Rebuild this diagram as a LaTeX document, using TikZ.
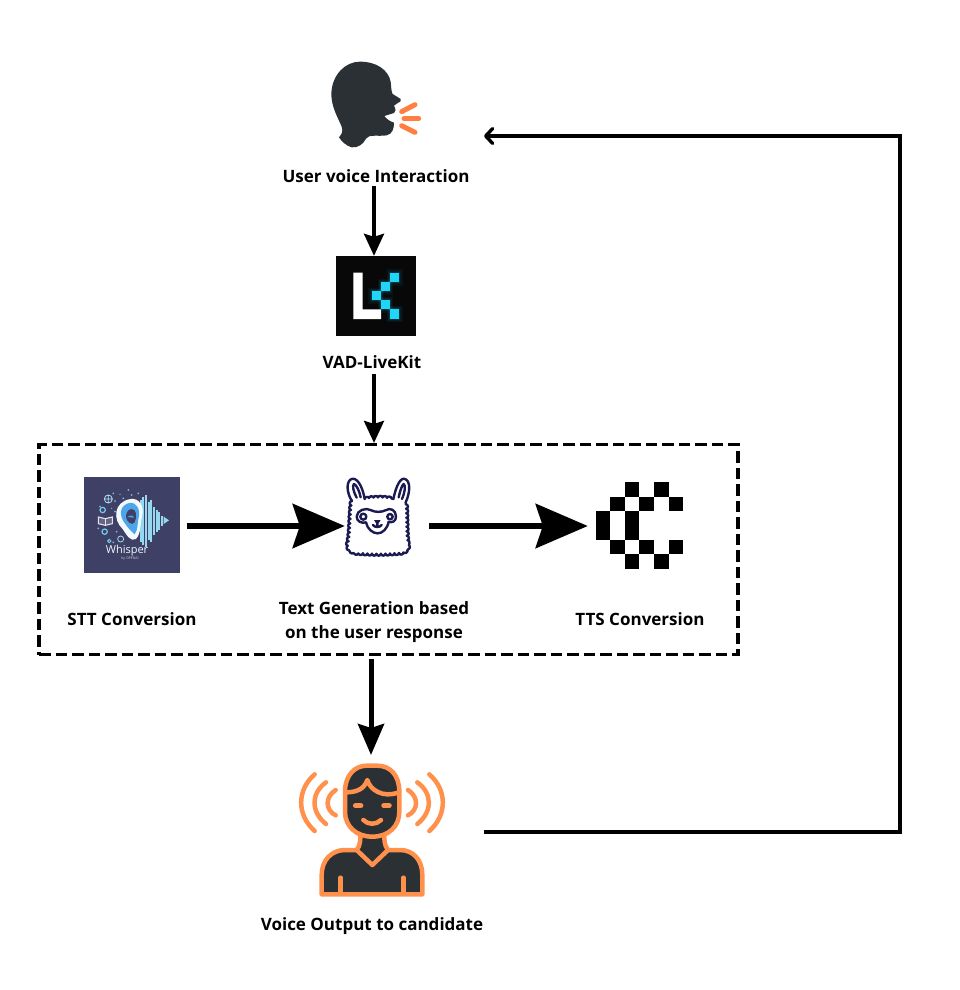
\documentclass[tikz,border=0pt]{standalone}
\usepackage{fontspec}
\setmainfont{Open Sans}
\usetikzlibrary{arrows.meta,decorations.pathmorphing,decorations.pathreplacing,calc}
\definecolor{ink}{HTML}{2B3035}
\definecolor{orng}{HTML}{FF914D}
\definecolor{spk}{HTML}{FF7F41}
\definecolor{lkblue}{HTML}{1FD5F9}
\definecolor{wbg}{HTML}{3E4066}
\definecolor{wblue}{HTML}{5CC3E6}
\definecolor{navy}{HTML}{1B1B52}
\tikzset{
  x=1pt,y=-1pt,
  label text/.style={font=\bfseries\fontsize{17}{24}\selectfont,align=center,text=black,inner sep=0pt},
  thin arrow/.style={draw=black,line width=3.4pt,-{Stealth[length=22pt,width=20pt,inset=3pt]}},
  mid arrow/.style={draw=black,line width=5pt,-{Stealth[length=31pt,width=26pt,inset=4pt]}},
  fat arrow/.style={draw=black,line width=6.5pt,-{Stealth[length=52pt,width=44pt,inset=7pt]}},
  barb arrow/.style={draw=black,line width=3.4pt,-{Straight Barb[length=7pt,width=15pt,round]}},
  group box/.style={draw=black,line width=3.2pt,dash pattern=on 11.5pt off 5pt},
  icon box/.style={inner sep=0pt,minimum width=#1,minimum height=#1},
  zoomed/.style={x=0.33333pt,y=-0.33333pt},
  person/.style={fill=ink,draw=orng,line width=4.5pt,line join=round},
  wave/.style={draw=orng,line width=4.5pt,line cap=round},
  sq/.style={fill=black,draw=none},
  lama/.style={draw=navy,line width=2.4pt,line cap=round,line join=round},
}
\begin{document}
\begin{tikzpicture}
\useasboundingbox (0,0) rectangle (959,990);
\fill[white] (0,0) rectangle (959,990);

% ---------- anchors ----------
\node[icon box=1pt] (userlab) at (376,176) {};
\node[icon box=80pt] (vad) at (376,296) {};
\node[icon box=1pt] (vadlab) at (372,362) {};
\node[inner sep=0pt,minimum width=699pt,minimum height=210pt,group box] (grp) at (388.5,549.5) {};
\node[icon box=96pt] (whisper) at (132,525) {};
\node[inner sep=0pt,minimum width=84pt,minimum height=84pt] (llama) at (387,526) {};
\node[inner sep=0pt,minimum width=88pt,minimum height=88pt] (tts) at (632,526) {};
\coordinate (voicetop) at (371,755);
\coordinate (speakerin) at (484,136);
\coordinate (voiceout) at (484,832);
\coordinate (cornerA) at (900,832);
\coordinate (cornerB) at (900,136);

% ---------- speaking head ----------
\begin{scope}[shift={(270,60)},zoomed]
\fill[ink] (270,5) .. controls (320,5) and (355,30) .. (362,65)
  .. controls (364,85) and (364,95) .. (368,102)
  -- (392,117) .. controls (396,122) and (390,126) .. (382,130)
  -- (372,137) .. controls (378,148) and (378,155) .. (372,159)
  -- (343,168) .. controls (350,178) and (360,184) .. (372,188)
  .. controls (372,205) and (368,222) .. (350,226)
  .. controls (325,230) and (295,222) .. (288,236)
  .. controls (280,252) and (265,264) .. (245,262)
  .. controls (230,258) and (215,245) .. (207,232)
  .. controls (215,222) and (220,215) .. (215,200)
  .. controls (205,175) and (183,140) .. (184,100)
  .. controls (186,45) and (225,5) .. (270,5) -- cycle;
\draw[spk,line width=5pt,line cap=round] (395,155) -- (435,134);
\draw[spk,line width=5pt,line cap=round] (402,176) -- (446,176);
\draw[spk,line width=5pt,line cap=round] (395,197) -- (435,217);
\end{scope}
\node[label text] at (userlab) {User voice Interaction};

% ---------- LiveKit ----------
\fill[black!97] (vad.north west) rectangle (vad.south east);
\begin{scope}[shift={(320,240)},zoomed]
\foreach \g/\o in {10/.05,6/.07,3/.1}{
  \fill[lkblue,opacity=\o] (210-\g,98-\g) rectangle (238+\g,127+\g);
  \fill[lkblue,opacity=\o] (183-\g,127-\g) rectangle (210+\g,154+\g);
  \fill[lkblue,opacity=\o] (155-\g,154-\g) rectangle (183+\g,181+\g);
  \fill[lkblue,opacity=\o] (183-\g,181-\g) rectangle (210+\g,208+\g);
  \fill[lkblue,opacity=\o] (210-\g,208-\g) rectangle (238+\g,236+\g);
}
\fill[white] (100,98) -- (128,98) -- (128,208) -- (183,208) -- (183,237) -- (100,237) -- cycle;
\fill[lkblue] (210,98) rectangle (238,127);
\fill[lkblue] (183,127) rectangle (210,154);
\fill[lkblue] (155,154) rectangle (183,181);
\fill[lkblue] (183,181) rectangle (210,208);
\fill[lkblue] (210,208) rectangle (238,236);
\end{scope}
\node[label text] at (vadlab) {VAD-LiveKit};

% ---------- Whisper ----------
\fill[wbg] (whisper.north west) rectangle (whisper.south east);
\begin{scope}[shift={(70,465)},zoomed]
% halo of small icons
\foreach \a/\b/\c in {160/100/3,185/90/3,135/108/3,90/125/3,85/190/3,140/200/3,130/232/3,175/75/3,130/85/3,150/88/2,205/85/3,135/140/3,125/130/2}
  \fill[wblue!70!white,opacity=.8] (\a,\b) circle (\c);
\draw[wblue!50!white,line width=.8pt] (115,102) circle (12) (103,102) -- (127,102) (115,90) -- (115,114);
\draw[wblue!85!white,line width=1.2pt] (98,135) circle (8);
\draw[wblue!85!white,line width=1.2pt] (104,200) circle (8);
\draw[wblue!60!white,line width=.8pt] (152,222) circle (9);
\draw[wblue!85!white,line width=1pt] (118,228) circle (5);
\draw[white!85!wbg,line width=1.1pt,fill=white!20!wbg] (85,156) -- (85,176) -- (106,181) -- (127,176) -- (127,156) -- (106,161) -- cycle;
\draw[white!85!wbg,line width=1.1pt] (106,161) -- (106,181);
% waveform
\foreach \a/\h in {212/62,220/72,228/78,236/58,244/62,252/42,260/34,268/26,276/14}
  \draw[wblue!65!white,line width=1.9pt] (\a,168-\h) -- (\a,168+\h);
\fill[wblue!65!white] (281,155) -- (297,166) -- (281,177) -- cycle;
% ear
\fill[white!92!wblue] (182,102) .. controls (208,98) and (224,125) .. (216,155)
  .. controls (210,175) and (214,205) .. (198,222)
  .. controls (182,232) and (170,210) .. (158,192)
  .. controls (128,165) and (130,110) .. (182,102) -- cycle;
\fill[wblue!85!blue] (178,114) .. controls (200,110) and (212,135) .. (206,158)
  .. controls (202,175) and (204,195) .. (194,208)
  .. controls (182,198) and (170,185) .. (160,168)
  .. controls (146,145) and (152,120) .. (178,114) -- cycle;
\fill[wbg] (183,132) .. controls (200,130) and (202,155) .. (194,172)
  .. controls (186,184) and (170,170) .. (168,156)
  .. controls (168,146) and (172,135) .. (183,132) -- cycle;
\fill[wblue!85!blue] (172,156) .. controls (180,150) and (190,150) .. (192,158) .. controls (186,156) and (178,158) .. (172,156) -- cycle;
\node[inner sep=0pt,text=white!90!wblue,font=\fontsize{11}{12}\selectfont] at (171,257) {Whisper};
\node[inner sep=0pt,text=white!75!wbg,font=\fontsize{3.5}{4}\selectfont] at (180,282) {by OPENAI};
\end{scope}
\node[label text] (sttlab) at (132,619) {STT Conversion};

% ---------- Llama ----------
\begin{scope}[shift={(330,465)},zoomed]
\fill[white] (65,100) rectangle (230,262);
% ears
\draw[lama] (66,108) .. controls (50,85) and (46,45) .. (68,41)
  .. controls (88,41) and (100,78) .. (104,102);
\draw[lama] (80,98) .. controls (70,80) and (66,60) .. (72,57) .. controls (80,60) and (88,78) .. (92,97);
\draw[lama] (190,102) .. controls (195,78) and (206,41) .. (222,41)
  .. controls (244,45) and (240,85) .. (227,112);
\draw[lama] (206,97) .. controls (210,78) and (216,60) .. (221,57) .. controls (228,60) and (224,85) .. (216,102);
% wool
\draw[lama,decorate,decoration={bumps,segment length=9pt,amplitude=1.6pt}]
  (104,102) .. controls (130,96) and (165,96) .. (190,102);
\draw[lama,decorate,decoration={bumps,segment length=9pt,amplitude=2pt,mirror}]
  (66,108) .. controls (60,150) and (62,200) .. (55,232) .. controls (52,250) and (62,260) .. (80,263)
  .. controls (120,267) and (170,267) .. (212,263) .. controls (228,260) and (236,250) .. (232,232)
  .. controls (228,195) and (230,150) .. (227,112);
% face
\draw[lama,fill=white] (80,155) .. controls (80,136) and (108,126) .. (124,136)
  .. controls (135,142) and (155,142) .. (166,136)
  .. controls (182,126) and (198,136) .. (198,155)
  .. controls (198,170) and (185,174) .. (176,170)
  .. controls (172,192) and (157,205) .. (143,205)
  .. controls (128,205) and (112,192) .. (108,172)
  .. controls (96,176) and (80,170) .. (80,155) -- cycle;
\draw[lama] (100,155) circle (9);
\draw[lama] (180,155) circle (8);
\fill[navy] (132,165) -- (152,165) -- (146,175) -- (138,175) -- cycle;
\draw[lama] (142,175) -- (142,181) (129,180) .. controls (134,188) and (150,188) .. (155,180);
\end{scope}
\node[label text] (genlab) at (374,622) {Text Generation based\\on the user response};

% ---------- Cartesia ----------
\begin{scope}[shift={(580,470)},zoomed]
\foreach \a/\b/\c/\d in {135/37/178/80,223/37/266/80,91/80/135/123,178/80/222/123,266/80/310/123,47/123/91/210,135/123/178/210,91/210/135/253,178/210/222/253,266/210/310/253,135/253/178/296,223/253/266/296}
  \fill[sq] (\a,\b) rectangle (\c,\d);
\end{scope}
\node[label text] (ttslab) at (640,619) {TTS Conversion};

% ---------- Listener ----------
\begin{scope}[shift={(290,755)},zoomed]
\draw[person] (95,418) -- (95,360) .. controls (95,315) and (125,285) .. (165,285)
  -- (200,285) .. controls (212,270) and (210,255) .. (212,235)
  -- (282,235) .. controls (284,255) and (282,270) .. (294,285)
  -- (330,285) .. controls (370,285) and (397,315) .. (397,360)
  -- (397,418) -- cycle;
\draw[orng,line width=4.5pt,line cap=round,line join=round] (200,285) -- (247,330) -- (294,285);
\draw[orng,line width=4.5pt,line cap=round] (152,368) -- (152,415) (340,368) -- (340,415);
\draw[person] (165,110) .. controls (165,60) and (195,32) .. (230,32)
  -- (262,32) .. controls (300,32) and (328,60) .. (328,110)
  -- (328,170) .. controls (328,215) and (295,245) .. (247,245)
  .. controls (200,245) and (165,215) .. (165,170) -- cycle;
\draw[orng,line width=4.5pt,line cap=round,line join=round] (167,112)
  .. controls (195,112) and (222,105) .. (232,75)
  .. controls (240,105) and (280,130) .. (326,112);
\draw[orng,line width=5.5pt,line cap=round] (197,152) -- (212,152) (282,152) -- (297,152);
\draw[orng,line width=4.5pt,line cap=round] (220,195) .. controls (235,210) and (258,210) .. (273,195);
\draw[wave] (137,105) .. controls (105,125) and (105,165) .. (137,181);
\draw[wave] (108,82) .. controls (62,115) and (62,170) .. (108,207);
\draw[wave] (74,58) .. controls (20,105) and (20,180) .. (74,228);
\draw[wave] (354,105) .. controls (386,125) and (386,165) .. (354,181);
\draw[wave] (382,82) .. controls (428,115) and (428,170) .. (382,207);
\draw[wave] (418,58) .. controls (472,105) and (472,180) .. (418,228);
\end{scope}
\node[label text] (voicelab) at (372,926.5) {Voice Output to candidate};

% ---------- connectors ----------
\draw[thin arrow] (374,186) -- (vad.north -| 374,0);
\draw[thin arrow] (374,374) -- (grp.north -| 374,0);
\draw[fat arrow] (whisper.east |- 0,526) ++(7,0) -- (llama.west |- 0,526);
\draw[fat arrow] (llama.east |- 0,526) -- (tts.west |- 0,526);
\draw[mid arrow] (grp.south -| 371,0) ++(0,3) -- (voicetop);
\draw[barb arrow,line join=miter] (voiceout) -- (cornerA) -- (cornerB) -- (speakerin);
\end{tikzpicture}
\end{document}
